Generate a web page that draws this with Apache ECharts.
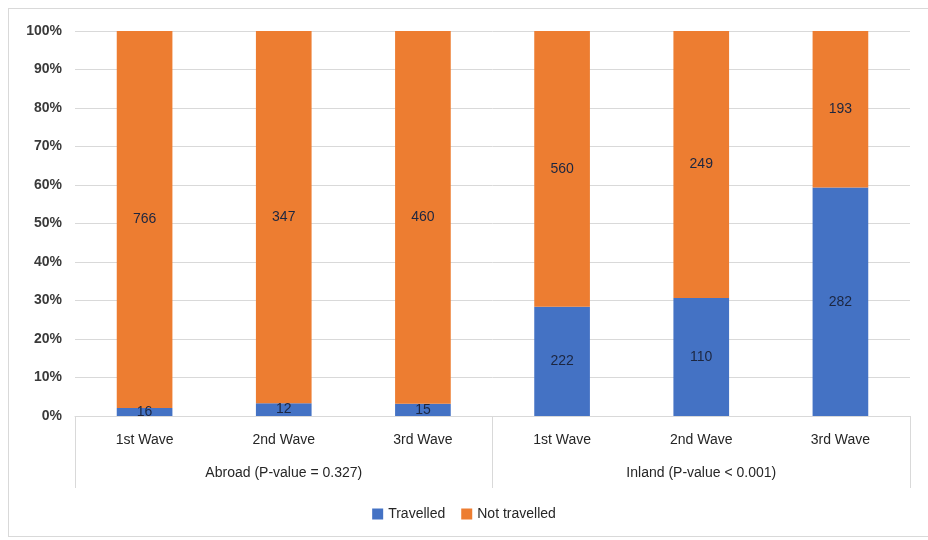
<!DOCTYPE html>
<html>
<head>
<meta charset="utf-8">
<script src="https://cdn.jsdelivr.net/npm/echarts@6/dist/echarts.min.js"></script>
<style>
  html, body { margin: 0; padding: 0; background: #fff; }
  #frame { position: absolute; left: 8px; top: 8px; width: 930px; height: 529px; border: 1px solid #d9d9d9; box-sizing: border-box; }
  #chart { position: absolute; left: 0; top: 0; width: 928px; height: 540px; }
</style>
</head>
<body>
<div id="frame"></div>
<div id="chart"></div>
<script>
// Waves within each destination group
const waves = ['1st Wave', '2nd Wave', '3rd Wave', '1st Wave', '2nd Wave', '3rd Wave'];
const groups = ['Abroad (P-value = 0.327)', 'Inland (P-value < 0.001)'];
// Respondent counts per wave
const travelled = [16, 12, 15, 222, 110, 282];
const notTravelled = [766, 347, 460, 560, 249, 193];
const yTicks = [0, 10, 20, 30, 40, 50, 60, 70, 80, 90, 100];

// 100% stacked shares, with the raw count kept for the label
const share = (arr, i) => arr[i] / (travelled[i] + notTravelled[i]) * 100;
const travelledData = travelled.map((v, i) => ({ value: share(travelled, i), count: v }));
const notTravelledData = notTravelled.map((v, i) => ({ value: share(notTravelled, i), count: v }));

const font = "'Liberation Sans', 'DejaVu Sans', sans-serif";
const labelStyle = {
  show: true,
  position: 'inside',
  color: '#1c2640',
  fontSize: 14,
  fontFamily: font,
  formatter: p => p.data.count
};

const chart = echarts.init(document.getElementById('chart'));
chart.setOption({
  animation: false,
  textStyle: { fontFamily: font },
  grid: { left: 75, right: 18, top: 31, bottom: 124, containLabel: false },
  legend: {
    bottom: 14,
    left: 'center',
    itemWidth: 11,
    itemHeight: 11,
    itemGap: 16,
    icon: 'rect',
    textStyle: { fontSize: 14, color: '#262626', fontFamily: font },
    data: ['Travelled', 'Not travelled']
  },
  xAxis: [
    {
      type: 'category',
      data: waves,
      position: 'bottom',
      axisLine: { show: true, lineStyle: { color: '#d9d9d9', width: 1 } },
      axisTick: { show: false },
      axisLabel: { margin: 17, fontSize: 14, color: '#262626', fontFamily: font }
    },
    {
      type: 'category',
      data: groups,
      position: 'bottom',
      offset: 0,
      axisLine: { show: false },
      axisTick: { show: true, length: 72, alignWithLabel: false, lineStyle: { color: '#d9d9d9', width: 1 } },
      axisLabel: { margin: 50, fontSize: 14, color: '#262626', fontFamily: font },
      splitLine: { show: false }
    }
  ],
  yAxis: {
    type: 'value',
    min: 0,
    max: 100,
    interval: 10,
    axisLine: { show: false },
    axisTick: { show: false },
    axisLabel: {
      formatter: v => yTicks.includes(v) ? v + '%' : '',
      fontSize: 14,
      fontWeight: 'bold',
      color: '#3a3a3a',
      margin: 13,
      fontFamily: font
    },
    splitLine: { lineStyle: { color: '#d9d9d9', width: 1 } }
  },
  series: [
    {
      name: 'Travelled',
      type: 'bar',
      stack: 'total',
      xAxisIndex: 0,
      barWidth: '40%',
      itemStyle: { color: '#4472C4' },
      label: labelStyle,
      data: travelledData
    },
    {
      name: 'Not travelled',
      type: 'bar',
      stack: 'total',
      xAxisIndex: 0,
      barWidth: '40%',
      itemStyle: { color: '#ED7D31' },
      label: labelStyle,
      data: notTravelledData
    }
  ]
});
</script>
</body>
</html>
